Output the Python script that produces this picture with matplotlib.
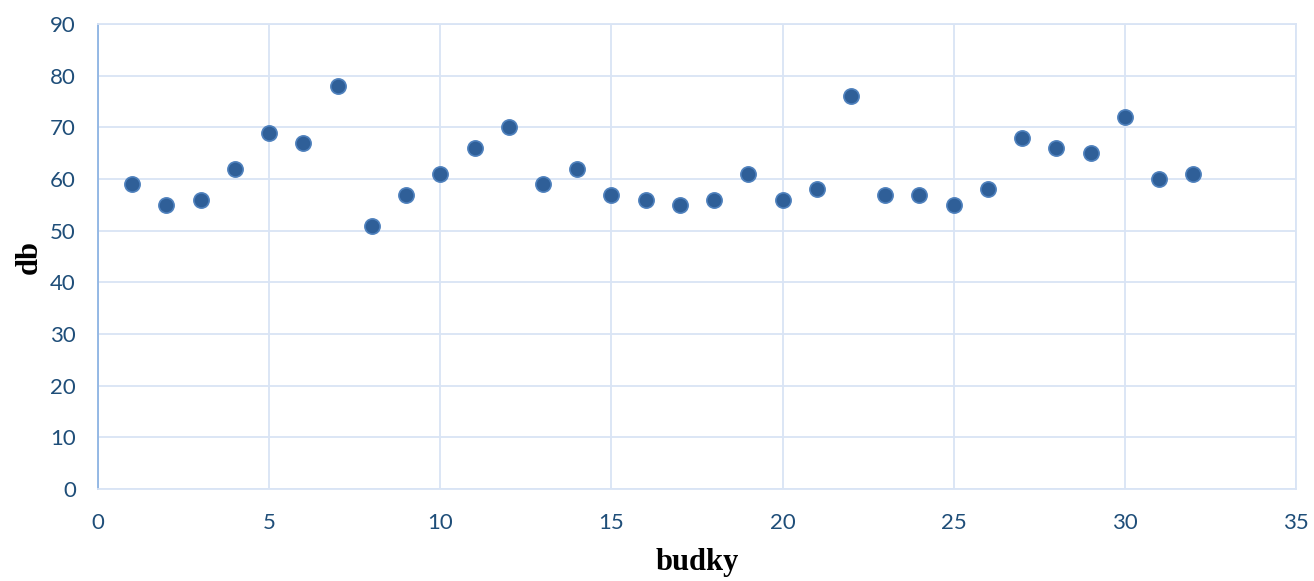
import matplotlib
matplotlib.use("Agg")
import matplotlib.pyplot as plt

# hluk v jednotlivých budkách
budky = list(range(1, 33))
db = [59, 55, 56, 62, 69, 67, 78, 51, 57, 61, 66, 70, 59, 62, 57, 56,
      55, 56, 61, 56, 58, 76, 57, 57, 55, 58, 68, 66, 65, 72, 60, 61]

x_ticks = [0, 5, 10, 15, 20, 25, 30, 35]
y_ticks = [0, 10, 20, 30, 40, 50, 60, 70, 80, 90]

TICK = "#1f4e79"
GRID = "#d9e4f5"
SPINE = "#8eb4e3"

fig = plt.figure(figsize=(13.14, 5.81), dpi=100, facecolor="white")
ax = fig.add_axes([0.0746, 0.1583, 0.9117, 0.8004])

ax.scatter(budky, db, s=120, color="#2f5f98", edgecolors="#4f81bd",
           linewidths=1.2, zorder=3, clip_on=False)

ax.set_xlim(0, 35)
ax.set_ylim(0, 90)
ax.set_xticks(x_ticks)
ax.set_yticks(y_ticks)
ax.grid(True, color=GRID, linewidth=1.3)
ax.set_axisbelow(True)

for name, sp in ax.spines.items():
    sp.set_color(GRID)
    sp.set_linewidth(1.3)
ax.spines["left"].set_color(SPINE)

ax.tick_params(length=0, labelsize=16, labelcolor=TICK)
ax.tick_params(axis="x", pad=17)
ax.tick_params(axis="y", pad=16)
for lbl in ax.get_xticklabels() + ax.get_yticklabels():
    lbl.set_fontfamily("Lato")

ax.set_xlabel("budky", fontfamily="Liberation Serif", fontweight="bold",
              fontsize=22, va="center")
ax.set_ylabel("db", fontfamily="Liberation Serif", fontweight="bold",
              fontsize=22, va="center")
ax.xaxis.set_label_coords(0.5, -0.158)
ax.yaxis.set_label_coords(-0.057, 0.5)

fig.savefig("out.png", dpi=100, facecolor="white")
